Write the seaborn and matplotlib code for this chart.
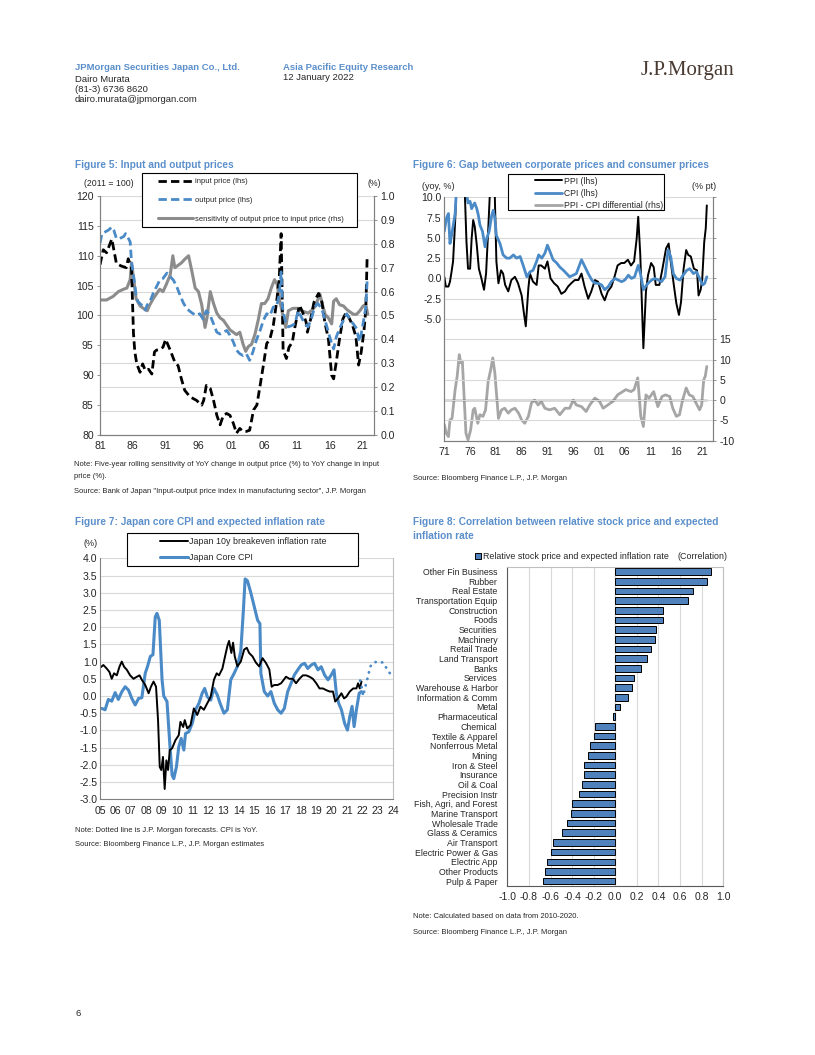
import matplotlib
matplotlib.use("Agg")
import matplotlib.pyplot as plt
import seaborn as sns
import numpy as np
from matplotlib.lines import Line2D
from matplotlib.patches import Patch, Rectangle

# ---- Figure 5: input / output prices (2011=100) and sensitivity (rhs) ----
input_price = [
    (1981.0, 108.5), (1981.5, 111.0), (1982.0, 110.5), (1982.8, 112.8), (1983.5, 108.7),
    (1984.2, 108.3), (1985.0, 108.0), (1985.3, 109.5), (1985.8, 108.0), (1986.1, 97.0),
    (1986.3, 94.0), (1986.6, 91.9), (1987.1, 90.5), (1987.5, 91.9), (1987.9, 90.8),
    (1988.4, 91.0), (1988.9, 90.2), (1989.3, 93.9), (1989.6, 94.2), (1990.1, 94.3),
    (1990.6, 94.7), (1991.0, 96.0), (1991.7, 94.2), (1992.4, 92.2), (1992.9, 91.6),
    (1993.4, 89.4), (1993.9, 87.5), (1994.7, 86.4), (1995.2, 86.1), (1995.7, 85.8),
    (1996.5, 85.0), (1996.8, 85.8), (1997.2, 88.3), (1997.8, 87.8), (1998.3, 85.8),
    (1998.8, 83.3), (1999.3, 81.7), (1999.8, 83.3), (2000.3, 83.6), (2000.8, 83.3),
    (2001.3, 82.0), (2001.8, 80.3), (2002.3, 81.1), (2002.8, 80.6), (2003.3, 80.6),
    (2003.8, 80.8), (2004.4, 84.2), (2004.9, 85.0), (2005.4, 88.3), (2005.9, 91.7),
    (2006.4, 95.3), (2006.9, 96.1), (2007.4, 98.3), (2007.9, 102.2), (2008.3, 106.0),
    (2008.6, 113.7), (2008.9, 94.2), (2009.4, 92.8), (2009.8, 94.7), (2010.3, 95.5),
    (2010.6, 97.5), (2011.0, 99.7), (2011.4, 101.7), (2011.9, 100.5), (2012.4, 98.9),
    (2012.6, 97.2), (2013.1, 99.4), (2013.6, 102.2), (2014.3, 103.7), (2014.8, 102.3),
    (2015.3, 98.6), (2015.8, 96.1), (2016.3, 90.0), (2016.6, 89.4), (2017.0, 92.2),
    (2017.5, 96.1), (2018.0, 99.4), (2018.5, 100.5), (2019.0, 99.5), (2019.5, 98.3),
    (2020.0, 96.4), (2020.4, 91.7), (2020.8, 93.9), (2021.2, 97.2), (2021.5, 101.0),
    (2021.7, 109.6),
]
output_price = [
    (1981.0, 112.1), (1981.3, 113.7), (1981.8, 114.0), (1982.3, 114.3), (1982.8, 114.8),
    (1983.1, 114.3), (1983.5, 112.9), (1984.0, 112.9), (1984.6, 113.2), (1984.9, 113.7),
    (1985.2, 113.2), (1985.6, 112.3), (1985.8, 109.0), (1986.1, 106.8), (1986.5, 103.4),
    (1986.8, 102.3), (1987.3, 101.8), (1987.9, 100.9), (1988.2, 101.8), (1988.6, 102.3),
    (1989.1, 103.7), (1989.6, 104.8), (1990.1, 105.9), (1990.6, 106.2), (1991.2, 107.1),
    (1991.7, 106.5), (1992.2, 105.9), (1992.7, 104.8), (1993.2, 103.4), (1993.7, 102.1),
    (1994.2, 101.2), (1994.7, 100.7), (1995.2, 100.3), (1995.7, 100.0), (1996.2, 100.3),
    (1996.7, 99.4), (1997.2, 100.8), (1997.8, 100.0), (1998.3, 98.6), (1998.8, 97.2),
    (1999.3, 96.9), (1999.8, 97.2), (2000.3, 97.5), (2000.8, 96.7), (2001.3, 95.6),
    (2001.8, 94.2), (2002.3, 93.6), (2002.8, 93.3), (2003.3, 93.6), (2003.8, 92.5),
    (2004.3, 93.9), (2004.8, 95.8), (2005.4, 97.5), (2005.9, 99.2), (2006.4, 100.3),
    (2006.9, 100.0), (2007.4, 101.4), (2007.9, 101.5), (2008.3, 103.4), (2008.6, 107.3),
    (2008.8, 101.4), (2009.2, 99.2), (2009.7, 98.1), (2010.2, 98.3), (2010.7, 98.6),
    (2011.2, 100.8), (2011.7, 99.7), (2012.2, 98.6), (2012.7, 98.1), (2013.2, 99.4),
    (2013.7, 101.4), (2014.2, 102.0), (2014.8, 101.1), (2015.3, 99.2), (2015.8, 97.2),
    (2016.3, 95.3), (2016.6, 94.4), (2017.0, 96.4), (2017.5, 97.8), (2018.1, 99.2),
    (2018.6, 100.3), (2019.1, 99.2), (2019.6, 98.6), (2020.1, 97.8), (2020.5, 95.6),
    (2020.8, 96.9), (2021.2, 99.4), (2021.5, 101.4), (2021.7, 105.7),
]
sensitivity = [
    (1981.0, 0.565), (1982.0, 0.565), (1983.0, 0.58), (1983.8, 0.60), (1984.6, 0.61),
    (1985.1, 0.615), (1985.6, 0.65), (1985.8, 0.72), (1986.1, 0.66), (1986.5, 0.57),
    (1987.1, 0.54), (1987.6, 0.53), (1988.2, 0.52), (1988.6, 0.545), (1989.1, 0.57),
    (1989.6, 0.59), (1990.1, 0.61), (1990.6, 0.60), (1991.1, 0.63), (1991.7, 0.67),
    (1992.1, 0.75), (1992.4, 0.70), (1992.9, 0.71), (1993.4, 0.72), (1993.9, 0.735),
    (1994.5, 0.75), (1995.0, 0.685), (1995.5, 0.615), (1996.0, 0.60), (1996.5, 0.545),
    (1997.0, 0.45), (1997.3, 0.49), (1997.8, 0.60), (1998.3, 0.55), (1998.8, 0.51),
    (1999.3, 0.49), (1999.8, 0.48), (2000.3, 0.46), (2000.8, 0.44), (2001.3, 0.43),
    (2001.8, 0.42), (2002.3, 0.43), (2002.8, 0.38), (2003.2, 0.35), (2003.6, 0.37),
    (2004.1, 0.38), (2004.6, 0.42), (2005.1, 0.48), (2005.6, 0.55), (2006.1, 0.55),
    (2006.6, 0.57), (2007.1, 0.615), (2007.6, 0.65), (2008.0, 0.63), (2008.3, 0.57),
    (2008.6, 0.535), (2008.9, 0.495), (2009.3, 0.45), (2009.7, 0.52), (2010.4, 0.53),
    (2011.2, 0.53), (2011.7, 0.52), (2012.2, 0.515), (2012.7, 0.51), (2013.2, 0.52),
    (2013.7, 0.535), (2014.1, 0.56), (2014.5, 0.59), (2014.9, 0.545), (2015.3, 0.505),
    (2015.8, 0.49), (2016.3, 0.465), (2016.6, 0.56), (2017.0, 0.57), (2017.5, 0.545),
    (2018.1, 0.54), (2018.6, 0.525), (2019.1, 0.515), (2019.6, 0.505), (2020.1, 0.505),
    (2020.6, 0.52), (2021.1, 0.54), (2021.5, 0.545), (2021.8, 0.505),
]

# ---- Figure 6: PPI, CPI (yoy %) and PPI-CPI differential (rhs) ----
ppi = [
    (1971.0, 0.2), (1971.3, -1.0), (1971.8, -1.0), (1972.1, -0.4), (1972.4, 0.8),
    (1972.7, 2.1), (1973.1, 7.0), (1973.4, 12.0), (1973.8, 20.0), (1974.2, 33.0),
    (1974.6, 30.0), (1974.9, 12.0), (1975.3, 4.5), (1975.6, 1.2), (1976.0, 1.2),
    (1976.3, 4.9), (1976.6, 7.2), (1976.9, 6.4), (1977.3, 4.1), (1977.7, 1.2),
    (1978.2, 0.0), (1978.7, -1.4), (1979.1, 0.6), (1979.5, 5.8), (1979.8, 10.0),
    (1980.2, 18.0), (1980.5, 17.0), (1980.8, 10.0), (1981.1, 2.1), (1981.5, -0.6),
    (1982.0, 1.0), (1982.4, 0.6), (1982.8, -0.8), (1983.4, -1.6), (1984.0, -0.2),
    (1984.7, 0.2), (1985.3, -0.6), (1986.0, -2.1), (1986.4, -4.1), (1986.8, -5.9),
    (1987.3, -1.2), (1987.6, 0.6), (1988.2, -0.4), (1988.9, -0.8), (1989.3, 1.6),
    (1989.8, 1.6), (1990.5, 1.2), (1991.0, 2.1), (1991.6, 0.0), (1992.3, -0.6),
    (1993.0, -1.0), (1993.7, -1.9), (1994.4, -1.6), (1995.0, -1.0), (1995.6, -0.6),
    (1996.3, -0.2), (1997.0, -0.2), (1997.6, 0.6), (1998.2, -1.0), (1998.9, -2.5),
    (1999.5, -1.6), (2000.2, -0.2), (2000.8, -0.4), (2001.5, -1.9), (2002.1, -2.7),
    (2002.7, -1.6), (2003.4, -1.0), (2004.0, 0.2), (2004.6, 1.6), (2005.3, 1.9),
    (2005.9, 1.9), (2006.6, 2.3), (2007.2, 1.6), (2007.8, 2.1), (2008.3, 4.9),
    (2008.6, 7.6), (2009.0, 2.9), (2009.3, -2.9), (2009.6, -8.6), (2010.1, -1.6),
    (2010.5, 0.4), (2011.1, 1.9), (2011.6, 1.4), (2012.0, -0.8), (2012.7, -0.8),
    (2013.3, 1.2), (2014.0, 3.7), (2014.5, 4.3), (2014.9, 2.1), (2015.5, -0.8),
    (2016.0, -3.1), (2016.5, -4.5), (2016.9, -2.9), (2017.4, 1.2), (2017.9, 3.5),
    (2018.3, 2.9), (2018.8, 2.7), (2019.4, 1.2), (2020.0, 1.0), (2020.3, -2.1),
    (2020.7, -1.4), (2021.0, -0.2), (2021.4, 4.5), (2021.7, 6.2), (2021.9, 9.0),
]
cpi = [
    (1971.0, 5.8), (1971.4, 7.4), (1971.8, 8.0), (1972.1, 4.3), (1972.5, 5.6),
    (1973.1, 8.0), (1973.4, 11.5), (1973.8, 16.0), (1974.2, 23.0), (1974.6, 24.5),
    (1975.0, 17.0), (1975.3, 10.5), (1975.6, 9.3), (1976.0, 9.5), (1976.3, 8.6),
    (1976.6, 9.0), (1976.9, 9.3), (1977.3, 8.6), (1977.6, 7.8), (1977.9, 6.6),
    (1978.4, 5.8), (1978.9, 3.9), (1979.2, 4.9), (1979.7, 5.8), (1980.2, 7.8),
    (1980.5, 8.4), (1980.8, 7.4), (1981.1, 5.3), (1981.8, 4.3), (1982.4, 2.9),
    (1983.1, 2.5), (1983.7, 2.5), (1984.4, 2.9), (1985.0, 2.5), (1985.7, 2.7),
    (1986.3, 1.6), (1987.0, 0.2), (1987.6, 0.8), (1988.2, 1.0), (1988.9, 2.1),
    (1989.3, 2.9), (1989.9, 2.5), (1990.5, 3.1), (1991.0, 4.1), (1991.5, 3.3),
    (1992.1, 2.3), (1992.8, 1.9), (1993.4, 1.4), (1994.1, 1.0), (1994.7, 0.6),
    (1995.3, 0.2), (1996.0, 0.4), (1996.6, 0.6), (1997.6, 2.3), (1998.3, 1.4),
    (1998.9, 0.6), (1999.6, -0.2), (2000.2, -0.6), (2000.8, -0.6), (2001.5, -0.8),
    (2002.1, -1.4), (2002.8, -1.0), (2003.4, -0.4), (2004.1, 0.0), (2004.7, -0.2),
    (2005.4, -0.4), (2006.0, -0.2), (2006.7, 0.4), (2007.3, 0.0), (2007.9, 0.2),
    (2008.6, 1.6), (2009.1, 0.4), (2009.6, -1.4), (2010.0, -1.0), (2010.5, -0.6),
    (2011.2, -0.2), (2011.8, 0.0), (2012.5, -0.2), (2013.1, -0.4), (2013.8, 0.2),
    (2014.4, 3.5), (2014.9, 2.7), (2015.4, 0.6), (2016.0, 0.0), (2016.7, -0.2),
    (2017.3, 0.4), (2018.0, 1.0), (2018.6, 1.2), (2019.3, 0.6), (2019.9, 0.8),
    (2020.5, 0.0), (2021.1, -0.8), (2021.5, -0.6), (2021.9, 0.2),
]
ppi_cpi_diff = [
    (1971.0, -6.0), (1971.4, -8.2), (1971.8, -9.0), (1972.1, -4.9), (1972.5, -4.5),
    (1973.1, 2.6), (1973.5, 5.9), (1973.9, 11.2), (1974.2, 9.2), (1974.5, 9.6),
    (1974.9, -0.7), (1975.2, -8.2), (1975.6, -9.8), (1976.1, -7.4), (1976.6, -2.4),
    (1976.9, -2.0), (1977.5, -5.7), (1977.9, -3.6), (1978.5, -4.0), (1979.0, -2.4),
    (1979.5, 4.6), (1980.0, 7.5), (1980.4, 10.4), (1980.8, 6.7), (1981.5, -4.5),
    (1982.1, -2.4), (1982.7, -2.0), (1983.4, -3.2), (1984.0, -2.4), (1984.7, -2.0),
    (1985.4, -3.2), (1986.0, -4.9), (1986.6, -5.7), (1987.3, -4.0), (1987.9, -0.7),
    (1988.5, 0.0), (1989.2, -1.2), (1989.8, -0.3), (1990.5, -2.0), (1991.4, -2.4),
    (1992.4, -2.0), (1993.4, -3.6), (1994.4, -2.0), (1995.3, -2.0), (1996.0, 0.0),
    (1996.6, -1.2), (1997.6, -1.6), (1998.5, -2.8), (1999.2, -1.2), (2000.2, 0.5),
    (2001.1, -0.3), (2001.8, -2.0), (2002.7, -1.2), (2003.7, -0.3), (2004.6, 1.3),
    (2005.6, 2.1), (2006.2, 2.6), (2007.2, 2.1), (2007.8, 2.6), (2008.5, 5.5),
    (2009.1, -4.0), (2009.6, -6.5), (2010.1, 1.3), (2010.7, 0.5), (2011.6, 2.1),
    (2012.4, -1.6), (2013.2, 0.9), (2013.9, 1.3), (2014.7, 0.9), (2015.3, -2.0),
    (2016.0, -4.0), (2016.6, -3.6), (2017.2, 0.0), (2017.9, 3.0), (2018.5, 1.3),
    (2019.2, 0.9), (2019.8, -0.7), (2020.5, -2.4), (2020.9, -1.2), (2021.3, 5.0),
    (2021.6, 5.9), (2021.9, 8.3),
]

# ---- Figure 7: breakeven inflation and core CPI (%) ----
breakeven = [
    (2005.00, 0.82), (2005.22, 0.90), (2005.43, 0.80), (2005.61, 0.70), (2005.76, 0.50),
    (2005.91, 0.66), (2006.09, 0.60), (2006.26, 0.85), (2006.41, 1.00), (2006.56, 0.85),
    (2006.74, 0.76), (2006.95, 0.60), (2007.17, 0.50), (2007.39, 0.56), (2007.56, 0.60),
    (2007.71, 0.47), (2007.93, 0.32), (2008.15, 0.08), (2008.30, 0.27), (2008.47, 0.42),
    (2008.63, 0.27), (2008.76, -0.70), (2008.87, -2.06), (2008.97, -2.15), (2009.08, -1.77),
    (2009.19, -2.70), (2009.30, -1.87), (2009.41, -2.15), (2009.52, -1.57), (2009.67, -1.52),
    (2009.89, -1.28), (2010.10, -1.14), (2010.21, -0.75), (2010.39, -0.90), (2010.49, -0.70),
    (2010.65, -0.94), (2010.86, -0.85), (2011.08, -0.36), (2011.30, -0.55), (2011.51, -0.31),
    (2011.73, -0.40), (2011.95, -0.21), (2012.17, -0.02), (2012.38, 0.47), (2012.56, 0.66),
    (2012.71, 0.60), (2012.93, 0.80), (2013.10, 1.15), (2013.25, 1.45), (2013.36, 1.60),
    (2013.51, 1.25), (2013.62, 1.55), (2013.73, 1.15), (2013.90, 0.86), (2014.12, 1.00),
    (2014.34, 1.35), (2014.51, 1.40), (2014.66, 1.25), (2014.88, 1.15), (2015.10, 0.97),
    (2015.31, 0.86), (2015.53, 1.10), (2015.75, 0.96), (2015.97, 0.77), (2016.12, 0.27),
    (2016.29, 0.32), (2016.51, 0.32), (2016.73, 0.37), (2016.90, 0.47), (2017.05, 0.56),
    (2017.27, 0.50), (2017.49, 0.50), (2017.70, 0.37), (2017.92, 0.50), (2018.14, 0.60),
    (2018.36, 0.60), (2018.57, 0.56), (2018.79, 0.50), (2019.01, 0.37), (2019.22, 0.22),
    (2019.44, 0.22), (2019.66, 0.17), (2019.88, 0.13), (2020.09, 0.13), (2020.24, -0.16),
    (2020.42, -0.07), (2020.64, 0.08), (2020.81, -0.07), (2020.96, -0.02), (2021.18, 0.13),
    (2021.40, 0.22), (2021.61, 0.22), (2021.72, 0.37), (2021.83, 0.22), (2021.94, 0.42),
]
core_cpi = [
    (2005.11, -0.36), (2005.33, -0.40), (2005.54, -0.10), (2005.76, -0.15), (2005.98, 0.10),
    (2006.19, -0.10), (2006.41, 0.12), (2006.63, 0.27), (2006.85, 0.17), (2007.06, -0.07),
    (2007.28, -0.26), (2007.50, -0.07), (2007.71, -0.05), (2007.93, 0.66), (2008.08, 0.86),
    (2008.26, 1.15), (2008.43, 1.20), (2008.58, 2.30), (2008.69, 2.40), (2008.84, 2.20),
    (2009.02, 0.47), (2009.13, 0.00), (2009.34, -0.16), (2009.52, -1.38), (2009.67, -2.30),
    (2009.78, -2.40), (2009.95, -2.06), (2010.10, -1.48), (2010.26, -1.23), (2010.43, -1.57),
    (2010.54, -1.09), (2010.75, -1.04), (2010.97, -0.80), (2011.19, -0.40), (2011.41, -0.21),
    (2011.62, 0.08), (2011.78, 0.22), (2011.95, -0.02), (2012.17, -0.12), (2012.38, 0.22),
    (2012.60, 0.03), (2012.77, -0.20), (2013.03, -0.50), (2013.25, -0.40), (2013.47, 0.47),
    (2013.69, 0.66), (2013.90, 0.86), (2014.12, 1.30), (2014.29, 2.50), (2014.40, 3.40),
    (2014.55, 3.35), (2014.77, 3.00), (2014.99, 2.60), (2015.21, 2.20), (2015.36, 2.10),
    (2015.42, 0.66), (2015.64, 0.13), (2015.86, 0.00), (2016.07, 0.13), (2016.29, -0.21),
    (2016.51, -0.40), (2016.73, -0.50), (2016.94, -0.36), (2017.16, 0.13), (2017.38, 0.37),
    (2017.59, 0.61), (2017.81, 0.76), (2018.03, 0.90), (2018.25, 0.95), (2018.46, 0.80),
    (2018.68, 0.90), (2018.90, 0.95), (2019.12, 0.76), (2019.33, 0.85), (2019.55, 0.61),
    (2019.77, 0.47), (2019.98, 0.61), (2020.16, 0.76), (2020.31, 0.08), (2020.46, -0.21),
    (2020.64, -0.40), (2020.85, -0.80), (2021.03, -0.99), (2021.18, -0.60), (2021.33, -0.30),
    (2021.46, -0.89), (2021.61, -0.40), (2021.79, 0.08), (2021.94, 0.13),
]
core_cpi_forecast = [
    (2021.85, 0.45), (2021.95, 0.25), (2022.05, 0.00), (2022.20, 0.30), (2022.38, 0.60),
    (2022.50, 0.85), (2022.70, 0.97), (2023.00, 1.00), (2023.35, 0.97), (2023.57, 0.80),
    (2023.78, 0.66),
]

# ---- Figure 8: correlation by sector ----
sectors = [
    "Other Fin Business", "Rubber", "Real Estate", "Transportation Equip", "Construction",
    "Foods", "Securities", "Machinery", "Retail Trade", "Land Transport", "Banks",
    "Services", "Warehouse & Harbor", "Information & Comm", "Metal", "Pharmaceutical",
    "Chemical", "Textile & Apparel", "Nonferrous Metal", "Mining", "Iron & Steel",
    "Insurance", "Oil & Coal", "Precision Instr", "Fish, Agri, and Forest",
    "Marine Transport", "Wholesale Trade", "Glass & Ceramics", "Air Transport",
    "Electric Power & Gas", "Electric App", "Other Products", "Pulp & Paper",
]
correlation = [
    0.89, 0.85, 0.72, 0.67, 0.44, 0.44, 0.38, 0.37, 0.33, 0.29, 0.24, 0.17, 0.155,
    0.12, 0.04, -0.02, -0.19, -0.20, -0.236, -0.254, -0.29, -0.29, -0.31, -0.34,
    -0.40, -0.41, -0.45, -0.49, -0.58, -0.60, -0.63, -0.65, -0.67,
]

W, H = 815, 1055
TITLE_BLUE = "#5b8fcb"
LINE_BLUE = "#4a8ac7"
BAR_BLUE = "#4f81bd"
GRID = "#d9d9d9"
SPINE = "#808080"
TICK_FS = 7.6

sns.set_style("white")
plt.rcParams["font.family"] = ["Liberation Sans Narrow", "Liberation Sans", "DejaVu Sans"]
plt.rcParams["axes.unicode_minus"] = False

fig = plt.figure(figsize=(W / 100, H / 100), dpi=100)


def ftext(x, y, s, **kw):
    kw.setdefault("va", "center")
    kw.setdefault("fontsize", 6)
    fig.text(x / W, 1 - y / H, s, **kw)


def box(l, t, r, b):
    return [l / W, 1 - b / H, (r - l) / W, (b - t) / H]


def frame(l, t, r, b):
    # white boxed legend background, like the Excel legends in the report
    fig.add_artist(Rectangle((l / W, 1 - b / H), (r - l) / W, (b - t) / H,
                             transform=fig.transFigure, facecolor="white",
                             edgecolor="black", linewidth=0.8, zorder=4))


def split(pairs):
    xs, ys = zip(*pairs)
    return np.array(xs), np.array(ys)


def style_axes(ax, right=True):
    for side in ["left", "bottom", "right"]:
        ax.spines[side].set_color(SPINE)
        ax.spines[side].set_linewidth(0.8)
    ax.spines["top"].set_visible(False)
    ax.spines["right"].set_visible(right)
    ax.tick_params(axis="both", labelsize=TICK_FS, length=2.5, width=0.6, color=SPINE, pad=2)


def line(ax, pairs, **kw):
    xs, ys = split(pairs)
    sns.lineplot(x=xs, y=ys, ax=ax, sort=False, errorbar=None, **kw)


def legend(handles, labels, x, y, **kw):
    kw.setdefault("handletextpad", 0.25)
    fig.legend(handles=handles, labels=labels, loc="upper left",
               bbox_to_anchor=(x / W, 1 - y / H), frameon=False,
               borderpad=0, borderaxespad=0, **kw).set_zorder(5)


# ---------------- page header ----------------
ftext(75, 68, "JPMorgan Securities Japan Co., Ltd.", color=TITLE_BLUE, fontweight="bold", fontsize=6.8)
ftext(75, 79, "Dairo Murata", fontsize=6.8)
ftext(75, 89.5, "(81-3) 6736 8620", fontsize=6.8)
ftext(75, 100, "dairo.murata@jpmorgan.com", fontsize=6.8)
ftext(283, 67, "Asia Pacific Equity Research", color=TITLE_BLUE, fontweight="bold", fontsize=6.8)
ftext(283, 78, "12 January 2022", fontsize=6.8)
ftext(734, 70, "J.P.Morgan", ha="right", fontsize=15, color="#4a3b32",
      family=["Liberation Serif", "DejaVu Serif"])
ftext(75, 1013, "6", fontsize=6.8)

# ---------------- Figure 5 ----------------
ftext(75, 165, "Figure 5: Input and output prices", color=TITLE_BLUE, fontweight="bold", fontsize=7.3)
ax5 = fig.add_axes(box(100, 196, 374, 435))
ax5r = ax5.twinx()
ax5.set_zorder(1)
ax5.patch.set_visible(False)
line(ax5, input_price, color="black", linewidth=2.0, linestyle=(0, (3, 1.5)))
line(ax5, output_price, color=LINE_BLUE, linewidth=2.0, linestyle=(0, (3, 1.5)))
line(ax5r, sensitivity, color="#8c8c8c", linewidth=2.2)
ax5.set_xlim(1981, 2022.75)
ax5.set_ylim(80, 120)
ax5r.set_ylim(0, 1.0)
ax5.set_yticks(np.arange(80, 121, 5))
ax5r.set_yticks(np.arange(0, 1.01, 0.1))
ax5r.set_yticklabels([f"{v:.1f}" for v in np.arange(0, 1.01, 0.1)])
yrs5 = np.arange(1981, 2022, 5)
ax5.set_xticks(yrs5)
ax5.set_xticklabels([f"{y % 100:02d}" for y in yrs5])
ax5r.yaxis.grid(True, color=GRID, linewidth=0.8)
ax5r.set_axisbelow(True)
style_axes(ax5)
style_axes(ax5r)
for a in (ax5, ax5r):
    a.set_xlabel("")
    a.set_ylabel("")
ftext(84, 183, "(2011 = 100)", fontsize=6.3)
ftext(381, 183, "(%)", fontsize=6.3, ha="right")
frame(141.7, 173, 356.7, 226.7)
legend([Line2D([], [], color="black", lw=2.0, ls=(0, (3, 1.5))),
        Line2D([], [], color=LINE_BLUE, lw=2.0, ls=(0, (3, 1.5))),
        Line2D([], [], color="#8c8c8c", lw=2.2)],
       ["input price (lhs)", "output price (lhs)",
        "sensitivity of output price to input price (rhs)"],
       158, 178, fontsize=5.5, handlelength=4.6, labelspacing=1.5)
ftext(74, 465, "Note: Five-year rolling sensitivity of YoY change in output price (%) to YoY change in input", fontsize=5.5)
ftext(74, 477, "price (%).", fontsize=5.5)
ftext(74, 492, 'Source: Bank of Japan "Input-output price index in manufacturing sector", J.P. Morgan', fontsize=5.5)

# ---------------- Figure 6 ----------------
ftext(413, 165, "Figure 6: Gap between corporate prices and consumer prices", color=TITLE_BLUE,
      fontweight="bold", fontsize=7.3)
ax6 = fig.add_axes(box(444.3, 197.3, 713, 440.7))
ax6r = ax6.twinx()
ax6.yaxis.grid(True, color=GRID, linewidth=0.8)
ax6.set_axisbelow(True)
ax6.set_zorder(1)
ax6.patch.set_visible(False)
line(ax6r, ppi_cpi_diff, color="#a6a6a6", linewidth=2.0)
diff_x, _ = split(ppi_cpi_diff)
ax6r.hlines(0, diff_x.min(), diff_x.max(), color="#404040", linewidth=1.0)
line(ax6, ppi, color="black", linewidth=1.4)
line(ax6, cpi, color=LINE_BLUE, linewidth=2.0)
ax6.set_xlim(1971, 2023.1)
ax6.set_ylim(-20, 10)
ax6r.set_ylim(-10, 50)
left_ticks = np.arange(-20, 10.01, 2.5)
ax6.set_yticks(left_ticks)
ax6.set_yticklabels([f"{v:.1f}" if v >= -5 else "" for v in left_ticks])
right_ticks = np.arange(-10, 50.01, 5)
ax6r.set_yticks(right_ticks)
ax6r.set_yticklabels([f"{v:.0f}" if v <= 15 else "" for v in right_ticks])
yrs6 = np.arange(1971, 2022, 5)
ax6.set_xticks(yrs6)
ax6.set_xticklabels([f"{y % 100:02d}" for y in yrs6])
style_axes(ax6)
style_axes(ax6r)
ax6.tick_params(axis="y", length=0)
for a in (ax6, ax6r):
    a.set_xlabel("")
    a.set_ylabel("")
ftext(422, 187, "(yoy, %)", fontsize=6.5)
ftext(716, 187, "(% pt)", fontsize=6.5, ha="right")
frame(508, 174, 664, 210)
legend([Line2D([], [], color="black", lw=1.4),
        Line2D([], [], color=LINE_BLUE, lw=2.0),
        Line2D([], [], color="#a6a6a6", lw=2.0)],
       ["PPI (lhs)", "CPI (lhs)", "PPI - CPI differential (rhs)"],
       535, 176.5, fontsize=6.2, handlelength=3.1, labelspacing=0.38)
ftext(413, 478, "Source: Bloomberg Finance L.P., J.P. Morgan", fontsize=5.5)

# ---------------- Figure 7 ----------------
ftext(75, 522, "Figure 7: Japan core CPI and expected inflation rate", color=TITLE_BLUE,
      fontweight="bold", fontsize=7.3)
ax7 = fig.add_axes(box(100, 558.3, 393.3, 799.3))
ax7.yaxis.grid(True, color=GRID, linewidth=0.8)
ax7.set_axisbelow(True)
line(ax7, core_cpi, color=LINE_BLUE, linewidth=2.2)
line(ax7, breakeven, color="black", linewidth=1.4)
line(ax7, core_cpi_forecast, color=LINE_BLUE, linewidth=2.0,
     linestyle=(0, (0.1, 2.3)), dash_capstyle="round")
ax7.set_xlim(2005, 2024)
ax7.set_ylim(-3, 4)
yt7 = np.arange(-3, 4.01, 0.5)
ax7.set_yticks(yt7)
ax7.set_yticklabels([f"{v:.1f}" for v in yt7])
yrs7 = np.arange(2005, 2025)
ax7.set_xticks(yrs7)
ax7.set_xticklabels([f"{y % 100:02d}" for y in yrs7])
style_axes(ax7)
ax7.spines["right"].set_color("#bfbfbf")
ax7.tick_params(axis="y", length=0)
ax7.set_xlabel("")
ax7.set_ylabel("")
ftext(83, 543, "(%)", fontsize=6.5)
frame(126.7, 532.7, 357.7, 566)
legend([Line2D([], [], color="black", lw=1.4),
        Line2D([], [], color=LINE_BLUE, lw=2.2)],
       ["Japan 10y breakeven inflation rate", "Japan Core CPI"],
       160, 537.3, fontsize=6.4, handlelength=3.2, labelspacing=0.8,
       handletextpad=0.1)
ftext(75, 830, "Note: Dotted line is J.P. Morgan forecasts. CPI is YoY.", fontsize=5.5)
ftext(75, 845, "Source: Bloomberg Finance L.P., J.P. Morgan estimates", fontsize=5.5)

# ---------------- Figure 8 ----------------
ftext(413, 522, "Figure 8: Correlation between relative stock price and expected", color=TITLE_BLUE,
      fontweight="bold", fontsize=7.3)
ftext(413, 536, "inflation rate", color=TITLE_BLUE, fontweight="bold", fontsize=7.3)
ax8 = fig.add_axes(box(507.3, 566.7, 723.3, 886))
ax8.xaxis.grid(True, color=GRID, linewidth=0.8)
ax8.set_axisbelow(True)
sns.barplot(x=correlation, y=sectors, orient="h", color=BAR_BLUE, edgecolor="black",
            linewidth=0.7, width=0.68, ax=ax8, saturation=1)
ax8.axvline(0, color="#7f7f7f", linewidth=0.8, zorder=0.5)
ax8.set_xlim(-1, 1)
xt8 = np.arange(-1, 1.01, 0.2)
ax8.set_xticks(xt8)
ax8.set_xticklabels([f"{v:.1f}" if abs(v) > 1e-9 else "0.0" for v in xt8])
for side in ["left", "bottom"]:
    ax8.spines[side].set_color("#595959")
    ax8.spines[side].set_linewidth(0.8)
for side in ["top", "right"]:
    ax8.spines[side].set_color("#bfbfbf")
    ax8.spines[side].set_linewidth(0.8)
ax8.tick_params(axis="x", labelsize=7.5, length=0, pad=4)
ax8.tick_params(axis="y", labelsize=6.3, length=0, pad=7)
ax8.set_xlabel("")
ax8.set_ylabel("")
fig.legend(handles=[Patch(facecolor=BAR_BLUE, edgecolor="black", linewidth=0.7)],
           labels=["Relative stock price and expected inflation rate"],
           loc="center left", bbox_to_anchor=(475 / W, 1 - 556.5 / H), fontsize=6.4,
           frameon=False, handlelength=0.7, handleheight=0.7, handletextpad=0.15,
           borderpad=0, borderaxespad=0)
ftext(728, 556.5, "(Correlation)", fontsize=6.4, ha="right")
ftext(413, 917, "Note: Calculated based on data from 2010-2020.", fontsize=5.5)
ftext(413, 932, "Source: Bloomberg Finance L.P., J.P. Morgan", fontsize=5.5)

fig.savefig("out.png", dpi=100, facecolor="white")
